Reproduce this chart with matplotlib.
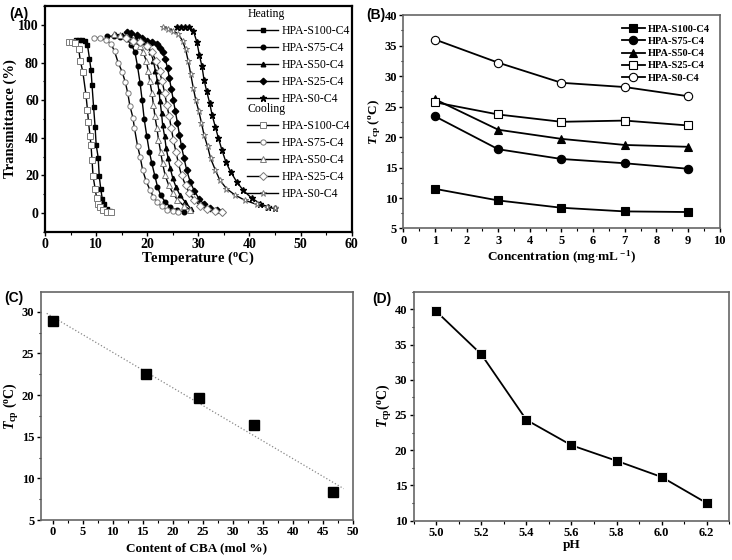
import numpy as np
import matplotlib
matplotlib.use("Agg")
import matplotlib.pyplot as plt
from matplotlib.lines import Line2D
from matplotlib.ticker import MultipleLocator

plt.rcParams.update({
    "font.family": "Liberation Serif",
    "font.weight": "bold",
    "axes.labelweight": "bold",
    "mathtext.fontset": "custom",
    "mathtext.rm": "Liberation Serif:bold",
    "mathtext.it": "Liberation Serif:italic:bold",
    "mathtext.bf": "Liberation Serif:bold",
    "xtick.direction": "out",
    "ytick.direction": "out",
})

# ---------------- (A) transmittance curves ----------------
samples = ["HPA-S100-C4", "HPA-S75-C4", "HPA-S50-C4", "HPA-S25-C4", "HPA-S0-C4"]
markers = ["s", "o", "^", "D", "*"]

heat_S100_T = [6.0, 6.6, 7.2, 7.8, 8.3, 8.7, 9.0, 9.2, 9.5, 9.8, 10.0, 10.4, 10.6, 10.9, 11.2, 11.5, 12.1, 12.7]
heat_S100_y = [92, 92, 92, 91.5, 89.5, 82, 76, 67.9, 56.4, 45.7, 36.4, 29.5, 19.8, 12.9, 7.5, 4.6, 2.3, 1.1]
heat_S75_T = [12.1, 13.4, 14.7, 16.0, 16.9, 17.6, 18.1, 18.6, 19.0, 19.4, 19.9, 20.4, 20.9, 21.5, 22.0, 22.6, 23.5, 24.5, 25.8, 27.1]
heat_S75_y = [94, 94, 93.8, 92.5, 89.6, 85.4, 78, 69, 60, 50, 41, 32.7, 26.4, 19.6, 14, 9.6, 5.9, 3.2, 1.4, 0.7]
heat_S50_T = [13.7, 15.0, 16.3, 17.6, 18.9, 19.9, 20.7, 21.2, 21.6, 22.0, 22.3, 22.5, 22.8, 23.0, 23.4, 23.7, 24.1, 24.5, 25.0, 25.6, 26.4, 27.4, 28.5]
heat_S50_y = [95, 94.8, 94, 92.5, 91, 89, 85.4, 81, 75.5, 70, 64.8, 59.5, 53, 47, 40.7, 34.5, 29, 23.8, 18.4, 14, 9.5, 5.9, 2.4]
heat_S25_T = [16.0, 16.9, 17.9, 18.9, 19.9, 20.9, 21.9, 22.5, 23.0, 23.5, 24.0, 24.3, 24.7, 25.1, 25.5, 25.9, 26.3, 26.7, 27.2, 27.7, 28.4, 29.2, 30.1, 31.1, 32.3, 33.6, 34.6]
heat_S25_y = [96, 95.5, 94.6, 93, 91.6, 91, 89.8, 87.5, 85.4, 81.8, 77, 72, 66, 60, 54, 48, 41.6, 35.4, 29, 23, 16.6, 11.8, 7.7, 4.6, 2.9, 1.4, 0.8]
heat_S0_T = [25.8, 26.6, 27.4, 28.2, 29.0, 29.7, 30.2, 30.7, 31.1, 31.6, 32.2, 32.7, 33.3, 33.9, 34.6, 35.4, 36.3, 37.5, 38.8, 40.4, 42.1, 43.7, 45.0]
heat_S0_y = [99, 99, 99, 99, 97, 91, 84, 78, 71, 65, 58.6, 52, 46, 40, 33.6, 27, 22, 16.6, 12, 8, 5, 3.2, 2.5]

cool_S100_T = [4.6, 5.2, 5.9, 6.6, 6.9, 7.4, 8.0, 8.3, 8.5, 8.8, 9.0, 9.2, 9.4, 9.8, 10.1, 10.4, 10.8, 11.3, 12.1, 13.0]
cool_S100_y = [91, 91, 90.5, 87, 81, 75, 63, 55, 48.5, 41, 36, 28, 19.6, 13, 8, 4.6, 3, 1.4, 0.7, 0.4]
cool_S75_T = [9.5, 10.8, 11.9, 12.9, 13.6, 14.3, 15.1, 15.7, 16.2, 16.6, 17.2, 17.5, 18.1, 18.6, 19.1, 19.8, 20.5, 21.2, 21.9, 22.8, 23.8, 25.1, 26.1]
cool_S75_y = [93, 93, 92, 90, 86, 80, 75, 69.6, 63.6, 57, 50.7, 45, 35.7, 30, 22.9, 16.8, 12.5, 8.6, 5.9, 3.6, 1.8, 0.9, 0.7]
cool_S50_T = [13.4, 14.7, 16.0, 17.3, 18.5, 19.2, 19.8, 20.2, 20.5, 20.9, 21.2, 21.5, 21.9, 22.2, 22.6, 23.0, 23.5, 24.2, 25.0, 25.9, 27.1, 28.4]
cool_S50_y = [95, 94.6, 93.4, 91.6, 89, 85.4, 81, 75.5, 70, 64, 57.7, 51.4, 45, 39, 32.7, 26.4, 20, 14.8, 10.7, 7, 4, 1.8]
cool_S25_T = [15.8, 17.3, 18.6, 19.9, 20.9, 21.7, 22.4, 22.9, 23.4, 23.8, 24.3, 24.7, 25.1, 25.6, 26.1, 26.7, 27.5, 28.2, 29.2, 30.3, 31.6, 33.3, 34.6]
cool_S25_y = [93, 91.6, 91, 89, 85.4, 81, 75.5, 70, 64, 57.7, 51.4, 45, 39, 32.7, 26.4, 20, 14.8, 10.7, 7, 4, 2.1, 1.1, 0.8]
cool_S0_T = [23.0, 24.1, 25.1, 26.1, 26.9, 27.5, 28.0, 28.5, 29.0, 29.5, 30.1, 30.6, 31.1, 31.8, 32.4, 33.3, 34.2, 35.5, 37.2, 39.1, 41.4, 43.4, 45.0]
cool_S0_y = [99, 98, 97, 95, 91.6, 87, 81, 73.8, 66.6, 60, 54, 48, 41.6, 35.4, 29, 23, 17.5, 13, 9.5, 6.8, 4.6, 3.2, 2.5]

heating = [(heat_S100_T, heat_S100_y), (heat_S75_T, heat_S75_y), (heat_S50_T, heat_S50_y),
           (heat_S25_T, heat_S25_y), (heat_S0_T, heat_S0_y)]
cooling = [(cool_S100_T, cool_S100_y), (cool_S75_T, cool_S75_y), (cool_S50_T, cool_S50_y),
           (cool_S25_T, cool_S25_y), (cool_S0_T, cool_S0_y)]

# ---------------- (B) Tcp vs concentration ----------------
conc = [1, 3, 5, 7, 9]
tcp_S100 = [11.5, 9.6, 8.4, 7.8, 7.7]
tcp_S75 = [23.4, 18.0, 16.4, 15.7, 14.8]
tcp_S50 = [26.2, 21.2, 19.7, 18.7, 18.4]
tcp_S25 = [25.7, 23.7, 22.5, 22.7, 21.9]
tcp_S0 = [36.0, 32.2, 28.9, 28.2, 26.7]

# ---------------- (C) Tcp vs CBA content ----------------
cba = [0, 15.6, 24.4, 33.5, 46.7]
tcp_cba = [28.9, 22.5, 19.6, 16.4, 8.4]

# ---------------- (D) Tcp vs pH ----------------
ph = [5.0, 5.2, 5.4, 5.6, 5.8, 6.0, 6.2]
tcp_ph = [39.7, 33.6, 24.3, 20.7, 18.5, 16.2, 12.5]

fig = plt.figure(figsize=(7.32, 5.6), dpi=100)
axA = fig.add_axes([0.0615, 0.586, 0.419, 0.403])
axB = fig.add_axes([0.551, 0.592, 0.432, 0.381])
axC = fig.add_axes([0.0556, 0.0714, 0.4262, 0.4077])
axD = fig.add_axes([0.5652, 0.0702, 0.431, 0.409])

tcp_label = r"$\mathit{T}_{\rm cp}$ ($^{\rm o}$C)"


def style_axis(ax, col="black", lw=1.4, size=9):
    for s in ax.spines.values():
        s.set_color(col)
        s.set_linewidth(lw)
    ax.tick_params(which="both", top=False, right=False, colors="black", labelsize=size, pad=1.5)
    ax.tick_params(which="major", length=3, width=1)
    ax.tick_params(which="minor", length=1.8, width=0.8)
    for lab in ax.get_xticklabels() + ax.get_yticklabels():
        lab.set_fontweight("bold")


# --- A
grey = "#7a7a7a"
for (t, y), m in zip(heating, markers):
    ms = 4.5 if m == "*" else 3.3
    axA.plot(t, y, "-", color="black", lw=1.0, marker=m, ms=ms, mfc="black", mec="black")
for (t, y), m in zip(cooling, markers):
    ms = 5 if m == "*" else 3.8
    axA.plot(t, y, "-", color="black", lw=1.0, marker=m, ms=ms, mfc="white", mec=grey, mew=0.7)
axA.set_xlim(0, 60)
axA.set_ylim(-10, 110)
axA.xaxis.set_major_locator(MultipleLocator(10))
axA.xaxis.set_minor_locator(MultipleLocator(5))
axA.set_yticks([0, 20, 40, 60, 80, 100])
axA.yaxis.set_minor_locator(MultipleLocator(10))
axA.set_xlabel(r"Temperature ($^{\rm o}$C)", fontsize=10.5, labelpad=-1)
axA.set_ylabel("Transmittance (%)", fontsize=10.5, labelpad=1)
style_axis(axA, lw=1.6, size=10)

hh = [Line2D([], [], color="black", lw=1.0, marker=m, ms=4.5 if m == "*" else 3.3, mfc="black", mec="black")
      for m in markers]
hc = [Line2D([], [], color="black", lw=1.0, marker=m, ms=5 if m == "*" else 3.8, mfc="white", mec=grey, mew=0.7)
      for m in markers]
leg_kw = dict(frameon=False, handlelength=2.6, handletextpad=0.3, labelspacing=0.42,
              borderpad=0, borderaxespad=0, alignment="left", title_fontsize=8.5,
              prop={"weight": "normal", "size": 8.5})
leg1 = axA.legend(hh, samples, title="Heating", loc="upper left", bbox_to_anchor=(0.66, 0.99), **leg_kw)
leg1.get_title().set_fontweight("normal")
axA.add_artist(leg1)
leg2 = axA.legend(hc, samples, title="Cooling", loc="upper left", bbox_to_anchor=(0.66, 0.57), **leg_kw)
leg2.get_title().set_fontweight("normal")

# --- B
b_series = [tcp_S100, tcp_S75, tcp_S50, tcp_S25, tcp_S0]
b_fill = ["black", "black", "black", "white", "white"]
b_mark = ["s", "o", "^", "s", "o"]
for vals, m, fc, name in zip(b_series, b_mark, b_fill, samples):
    axB.plot(conc, vals, "-", color="black", lw=1.3, marker=m, ms=6, mfc=fc, mec="black", mew=0.8, label=name)
axB.set_xlim(0, 10)
axB.set_ylim(5, 40)
axB.xaxis.set_major_locator(MultipleLocator(1))
axB.xaxis.set_minor_locator(MultipleLocator(0.5))
axB.yaxis.set_major_locator(MultipleLocator(5))
axB.yaxis.set_minor_locator(MultipleLocator(2.5))
axB.set_xlabel(r"Concentration (mg$\cdot$mL$^{\rm -1}$)", fontsize=9.5, labelpad=1)
axB.set_ylabel(tcp_label, fontsize=9.5, labelpad=1)
style_axis(axB, col="#666666", lw=1.2, size=9)
axB.legend(loc="upper right", frameon=False, handlelength=2.2, handletextpad=0.3,
           labelspacing=0.28, borderaxespad=0.5, prop={"weight": "bold", "size": 7.5})

# --- C
fit = np.polyfit(cba, tcp_cba, 1)
xf = np.array([-1, 48.5])
axC.plot(xf, np.polyval(fit, xf), ":", color="#888888", lw=0.9)
axC.plot(cba, tcp_cba, "s", color="black", ms=7)
axC.set_xlim(-2, 50)
axC.set_ylim(5, 32.4)
axC.xaxis.set_major_locator(MultipleLocator(5))
axC.xaxis.set_minor_locator(MultipleLocator(2.5))
axC.yaxis.set_major_locator(MultipleLocator(5))
axC.yaxis.set_minor_locator(MultipleLocator(2.5))
axC.set_xlabel("Content of CBA (mol %)", fontsize=9.5, labelpad=3)
axC.set_ylabel(tcp_label, fontsize=10, labelpad=1)
style_axis(axC, col="#666666", lw=1.2, size=9)

# --- D
axD.plot(ph, tcp_ph, "-", color="black", lw=1.3, marker="s", ms=7, mfc="black", mec="white", mew=0.6)
axD.set_xlim(4.9, 6.3)
axD.set_ylim(10, 42.5)
axD.xaxis.set_major_locator(MultipleLocator(0.2))
axD.xaxis.set_minor_locator(MultipleLocator(0.1))
axD.yaxis.set_major_locator(MultipleLocator(5))
axD.yaxis.set_minor_locator(MultipleLocator(2.5))
axD.set_xlabel("pH", fontsize=9.5, labelpad=0)
axD.set_ylabel(r"$\mathit{T}_{\rm cp}$($^{\rm o}$C)", fontsize=10, labelpad=1)
style_axis(axD, col="#666666", lw=1.2, size=9)

for x, y, s in [(0.012, 0.988, "(A)"), (0.500, 0.985, "(B)"), (0.006, 0.48, "(C)"), (0.508, 0.478, "(D)")]:
    fig.text(x, y, s, family="Liberation Sans", weight="bold", fontsize=10, va="top", ha="left")

fig.savefig("out.png", dpi=100)
